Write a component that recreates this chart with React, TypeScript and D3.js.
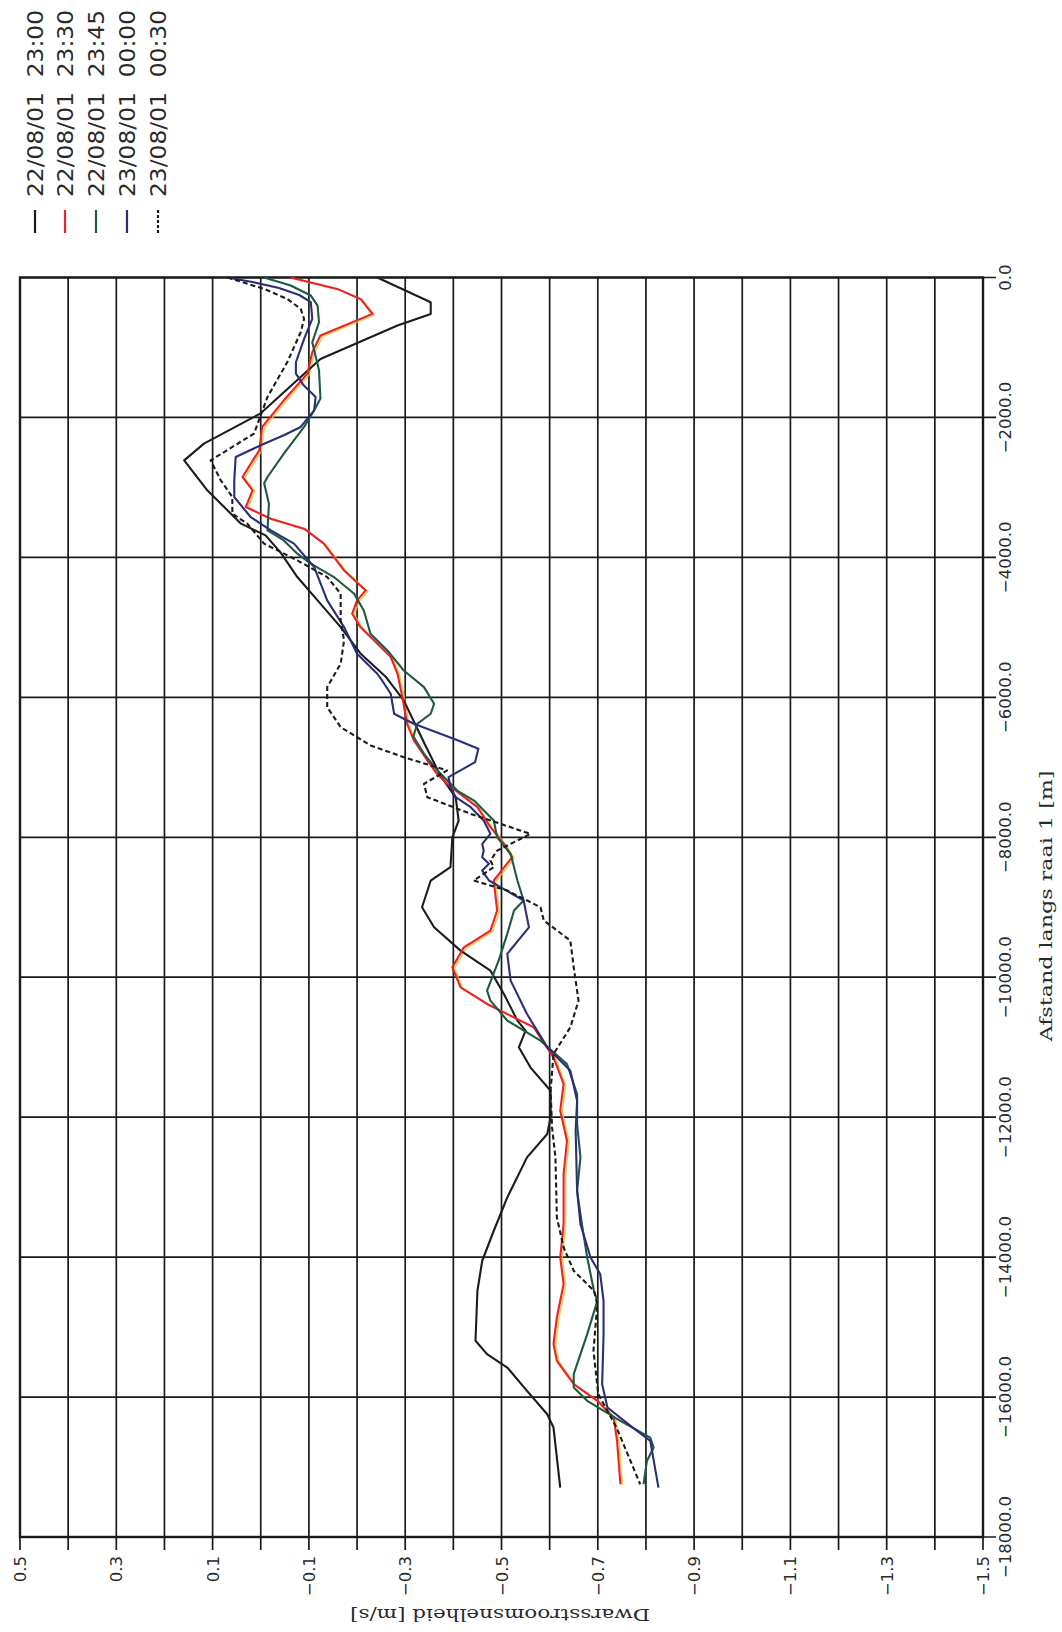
import React from "react";
import * as d3 from "d3";

type P = [number, number]; // [distance m, velocity m/s]

const velocityGrid: number[] = d3.range(21).map((i) => +(0.5 - i * 0.1).toFixed(1));
const velocityLabels: number[] = [0.5, 0.3, 0.1, -0.1, -0.3, -0.5, -0.7, -0.9, -1.1, -1.3, -1.5];
const distanceTicks: number[] = [0, -2000, -4000, -6000, -8000, -10000, -12000, -14000, -16000, -18000];

const legendLabels: string[] = [
  "22/08/01  23:00",
  "22/08/01  23:30",
  "22/08/01  23:45",
  "23/08/01  00:00",
  "23/08/01  00:30",
];

const s2300: P[] = [[0,-0.242],[-353,-0.353],[-520,-0.353],[-687,-0.284],[-1164,-0.124],[-1941,0.0],[-2374,0.118],[-2613,0.159],[-3042,0.111],[-3518,0.041],[-3685,-0.01],[-3928,-0.041],[-4281,-0.076],[-4615,-0.118],[-4996,-0.166],[-5373,-0.207],[-5701,-0.259],[-6044,-0.297],[-6330,-0.317],[-6688,-0.342],[-7117,-0.373],[-7432,-0.405],[-7761,-0.411],[-8000,-0.398],[-8428,-0.394],[-8618,-0.353],[-9000,-0.335],[-9287,-0.36],[-9620,-0.415],[-9906,-0.477],[-10239,-0.505],[-10620,-0.533],[-10763,-0.55],[-11002,-0.536],[-11288,-0.56],[-11622,-0.602],[-12003,-0.602],[-12241,-0.595],[-12575,-0.553],[-13147,-0.512],[-13623,-0.484],[-14052,-0.46],[-14481,-0.45],[-15196,-0.446],[-15387,-0.47],[-15578,-0.512],[-15911,-0.553],[-16245,-0.595],[-16436,-0.608],[-17294,-0.622]];

const s2330: P[] = [[0,-0.062],[-163,-0.159],[-306,-0.207],[-520,-0.232],[-830,-0.124],[-1068,-0.107],[-1373,-0.097],[-1755,-0.048],[-2136,-0.003],[-2470,0.003],[-2851,0.038],[-3042,0.017],[-3280,0.031],[-3447,-0.021],[-3590,-0.09],[-3804,-0.131],[-4186,-0.173],[-4472,-0.218],[-4615,-0.2],[-4805,-0.19],[-4996,-0.207],[-5425,-0.27],[-5663,-0.284],[-5997,-0.294],[-6378,-0.304],[-6616,-0.318],[-6903,-0.346],[-7093,-0.366],[-7236,-0.387],[-7570,-0.45],[-7856,-0.477],[-8094,-0.505],[-8285,-0.522],[-8618,-0.484],[-9047,-0.491],[-9333,-0.477],[-9572,-0.422],[-9858,-0.398],[-10144,-0.415],[-10382,-0.47],[-10716,-0.567],[-11145,-0.608],[-11526,-0.629],[-11908,-0.622],[-12337,-0.636],[-12813,-0.629],[-13528,-0.629],[-14005,-0.622],[-14386,-0.629],[-14863,-0.615],[-15244,-0.608],[-15482,-0.615],[-15816,-0.65],[-16054,-0.699],[-16293,-0.733],[-16627,-0.74],[-17246,-0.747]];

const s2345: P[] = [[0,-0.007],[-115,-0.062],[-258,-0.104],[-401,-0.118],[-640,-0.121],[-926,-0.107],[-1326,-0.121],[-1730,-0.124],[-1898,-0.111],[-2136,-0.09],[-2517,-0.048],[-2851,-0.014],[-2942,-0.007],[-3232,-0.017],[-3614,-0.014],[-3757,-0.048],[-3947,-0.076],[-4090,-0.104],[-4281,-0.152],[-4519,-0.194],[-4758,-0.214],[-5091,-0.228],[-5330,-0.263],[-5616,-0.297],[-5854,-0.339],[-6092,-0.36],[-6235,-0.353],[-6378,-0.325],[-6559,-0.317],[-6807,-0.339],[-7045,-0.367],[-7332,-0.408],[-7475,-0.443],[-7761,-0.484],[-8000,-0.491],[-8237,-0.519],[-8618,-0.533],[-8904,-0.546],[-9047,-0.526],[-9381,-0.512],[-9763,-0.494],[-10192,-0.47],[-10335,-0.477],[-10620,-0.512],[-10907,-0.581],[-11240,-0.636],[-11669,-0.657],[-12098,-0.657],[-12575,-0.664],[-13051,-0.657],[-13528,-0.667],[-14005,-0.678],[-14481,-0.692],[-14624,-0.699],[-15101,-0.678],[-15673,-0.65],[-15864,-0.65],[-16054,-0.678],[-16340,-0.747],[-16579,-0.809],[-16722,-0.816],[-16913,-0.802],[-17246,-0.795]];

const s0000: P[] = [[0,0.07],[-60,0.02],[-150,-0.038],[-250,-0.08],[-353,-0.104],[-592,-0.107],[-878,-0.09],[-1211,-0.073],[-1373,-0.073],[-1540,-0.089],[-1707,-0.114],[-1898,-0.111],[-2136,-0.083],[-2255,-0.048],[-2398,0.0],[-2565,0.052],[-2899,0.055],[-3137,0.055],[-3423,0.021],[-3614,-0.021],[-3804,-0.069],[-4138,-0.111],[-4615,-0.138],[-4996,-0.173],[-5377,-0.2],[-5663,-0.242],[-5759,-0.252],[-5949,-0.27],[-6235,-0.277],[-6306,-0.297],[-6378,-0.318],[-6616,-0.41],[-6735,-0.452],[-6927,-0.445],[-7045,-0.415],[-7141,-0.39],[-7284,-0.394],[-7427,-0.405],[-7570,-0.436],[-7761,-0.463],[-7951,-0.477],[-8094,-0.46],[-8189,-0.463],[-8285,-0.46],[-8380,-0.474],[-8476,-0.46],[-8618,-0.474],[-8904,-0.546],[-9287,-0.557],[-9667,-0.512],[-10049,-0.519],[-10525,-0.553],[-11002,-0.595],[-11336,-0.643],[-11765,-0.657],[-12194,-0.654],[-13051,-0.657],[-13528,-0.664],[-14005,-0.685],[-14243,-0.705],[-14624,-0.712],[-15101,-0.712],[-15816,-0.709],[-16150,-0.72],[-16412,-0.768],[-16627,-0.809],[-17294,-0.826]];

const s0030: P[] = [[0,0.069],[-163,-0.007],[-306,-0.055],[-449,-0.083],[-592,-0.09],[-782,-0.083],[-1211,-0.055],[-1707,-0.014],[-2231,0.014],[-2613,0.104],[-2899,0.083],[-3137,0.059],[-3375,0.059],[-3518,0.028],[-3804,-0.007],[-3900,-0.035],[-4043,-0.076],[-4281,-0.138],[-4519,-0.166],[-4901,-0.166],[-5187,-0.173],[-5520,-0.166],[-5854,-0.138],[-6140,-0.138],[-6426,-0.166],[-6688,-0.228],[-6855,-0.297],[-7045,-0.387],[-7236,-0.339],[-7427,-0.346],[-7665,-0.436],[-7951,-0.56],[-8094,-0.519],[-8190,-0.491],[-8333,-0.477],[-8428,-0.484],[-8618,-0.442],[-8761,-0.512],[-9000,-0.581],[-9191,-0.588],[-9476,-0.643],[-9858,-0.65],[-10335,-0.66],[-10716,-0.643],[-11097,-0.608],[-11622,-0.602],[-12146,-0.605],[-12575,-0.612],[-13433,-0.615],[-13862,-0.629],[-14195,-0.65],[-14481,-0.692],[-14672,-0.699],[-15339,-0.691],[-15959,-0.701],[-16436,-0.739],[-17246,-0.788]];

const seriesList = [
  { data: s2300, color: "#1c1c1c", dash: "" },
  { data: s2330, color: "#e8232b", dash: "" },
  { data: s2345, color: "#1f5a3e", dash: "" },
  { data: s0000, color: "#2b2f7a", dash: "" },
  { data: s0030, color: "#1c1c1c", dash: "5,3" },
];

const W = 1062;
const H = 1632;

export default function App() {
  const x = d3.scaleLinear().domain([0.5, -1.5]).range([20, 983]);
  const y = d3.scaleLinear().domain([0, -18000]).range([277.5, 1537]);
  const line = d3
    .line<P>()
    .x((p) => x(p[1]))
    .y((p) => y(p[0]));
  const fmtV = d3.format(".1f");
  const fmtD = d3.format(".1f");
  const [x0, x1] = x.range();
  const [y0, y1] = y.range();
  const sans = "'DejaVu Sans', 'Liberation Sans', sans-serif";
  const serif = "'DejaVu Serif', 'Liberation Serif', serif";
  const legendX = [35, 65, 96, 127, 158];

  return (
    <div style={{ position: "absolute", left: 0, top: 0 }}>
      <svg width={W} height={H} viewBox={`0 0 ${W} ${H}`} style={{ display: "block", background: "#ffffff" }}>
        <defs>
          <clipPath id="plotclip">
            <rect x={x0} y={y0 - 2} width={x1 - x0} height={y1 - y0 + 2} />
          </clipPath>
        </defs>
        {velocityGrid.map((v, i) => (
          <line key={"vg" + i} x1={x(v)} x2={x(v)} y1={y0} y2={y1 + 13} stroke="#1a1a1a" strokeWidth={1.7} />
        ))}
        {distanceTicks.map((d, i) => (
          <line key={"hg" + i} x1={x0} x2={x1 + 13} y1={y(d)} y2={y(d)} stroke="#1a1a1a" strokeWidth={1.7} />
        ))}
        <rect x={x0} y={y0} width={x1 - x0} height={y1 - y0} fill="none" stroke="#1a1a1a" strokeWidth={2.4} />

        {velocityLabels.map((v, i) => (
          <text
            key={"vl" + i}
            transform={`translate(${x(v) + 6},1556) rotate(-90)`}
            textAnchor="end"
            fontFamily={sans}
            fontSize={16.5}
            fill="#2a2a2a"
          >
            {fmtV(v)}
          </text>
        ))}
        {distanceTicks.map((d, i) => (
          <text
            key={"dl" + i}
            transform={`translate(1011,${y(d)}) rotate(-90)`}
            textAnchor="middle"
            fontFamily={sans}
            fontSize={16.5}
            fill="#2a2a2a"
          >
            {fmtD(d)}
          </text>
        ))}

        <text
          transform="translate(1052,906) rotate(-90)"
          textAnchor="middle"
          fontFamily={serif}
          fontSize={17}
          fill="#2a2a2a"
          textLength={271}
          lengthAdjust="spacingAndGlyphs"
        >
          Afstand langs raai 1 [m]
        </text>
        <text
          transform="translate(500,1609) rotate(180)"
          textAnchor="middle"
          fontFamily={serif}
          fontSize={17}
          fill="#2a2a2a"
          textLength={300}
          lengthAdjust="spacingAndGlyphs"
        >
          Dwarsstroomsnelheid [m/s]
        </text>

        <g clipPath="url(#plotclip)">
          <path
            d={line(s2330) || ""}
            transform="translate(2,1)"
            fill="none"
            stroke="#f2c230"
            strokeWidth={1.6}
            strokeLinejoin="round"
            opacity={0.85}
          />
          {seriesList.map((s, i) => (
            <path
              key={"s" + i}
              d={line(s.data) || ""}
              fill="none"
              stroke={s.color}
              strokeWidth={2.1}
              strokeDasharray={s.dash || undefined}
              strokeLinejoin="round"
            />
          ))}
        </g>

        {legendLabels.map((lab, i) => (
          <g key={"lg" + i}>
            <line
              x1={legendX[i]}
              x2={legendX[i]}
              y1={210}
              y2={233}
              stroke={seriesList[i].color}
              strokeWidth={2.2}
              strokeDasharray={seriesList[i].dash ? "3,2" : undefined}
            />
            <text
              transform={`translate(${legendX[i] + 8},197) rotate(-90)`}
              textAnchor="start"
              fontFamily={sans}
              fontSize={22}
              fill="#2a2a2a"
              textLength={187}
              lengthAdjust="spacingAndGlyphs"
              style={{ whiteSpace: "pre" }}
            >
              {lab}
            </text>
          </g>
        ))}
      </svg>
    </div>
  );
}
